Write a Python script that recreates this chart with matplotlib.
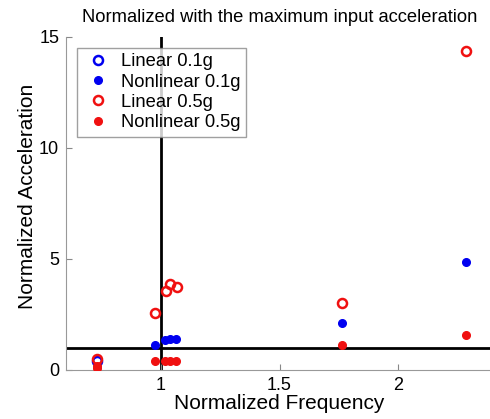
import numpy as np
import matplotlib.pyplot as plt

plt.rcParams['font.family'] = ['Liberation Sans', 'DejaVu Sans']

# normalized frequency / acceleration
lin01_x = [0.73]
lin01_y = [0.42]
nonlin01_x = [0.976, 1.017, 1.040, 1.063, 1.762, 2.287]
nonlin01_y = [1.12, 1.35, 1.38, 1.38, 2.10, 4.85]
lin05_x = [0.73, 0.976, 1.020, 1.040, 1.066, 1.762, 2.287]
lin05_y = [0.50, 2.55, 3.55, 3.85, 3.75, 3.03, 14.38]
nonlin05_x = [0.73, 0.73, 0.976, 1.017, 1.040, 1.063, 1.762, 2.287]
nonlin05_y = [0.20, 0.08, 0.40, 0.40, 0.40, 0.40, 1.13, 1.58]

xticks = [1, 1.5, 2]
yticks = [0, 5, 10, 15]

fig = plt.figure(figsize=(4.9, 4.19), dpi=100)
ax = fig.add_axes([0.135, 0.117, 0.871, 0.795])

ax.axvline(1, color='black', lw=2, zorder=1)
ax.axhline(1, color='black', lw=2, zorder=1)

ax.plot(lin01_x, lin01_y, 'o', mfc='none', mec='#0000f0', mew=1.8, ms=6.5, label='Linear 0.1g', zorder=3)
ax.plot(nonlin01_x, nonlin01_y, 'o', color='#0000f0', ms=5.5, label='Nonlinear 0.1g', zorder=3)
ax.plot(lin05_x, lin05_y, 'o', mfc='none', mec='#f01010', mew=1.8, ms=6.5, label='Linear 0.5g', zorder=3)
ax.plot(nonlin05_x, nonlin05_y, 'o', color='#f01010', ms=5.5, label='Nonlinear 0.5g', zorder=3)

ax.set_xlim(0.6, 2.4)
ax.set_ylim(0, 15)
ax.set_xticks(xticks)
ax.set_xticklabels(['1', '1.5', '2'])
ax.set_yticks(yticks)
ax.tick_params(direction='in', labelsize=13, color='#888888', length=4, pad=5)

for s in ['top', 'right']:
    ax.spines[s].set_visible(False)
for s in ['left', 'bottom']:
    ax.spines[s].set_color('#999999')

ax.set_xlabel('Normalized Frequency', fontsize=15, labelpad=0)
ax.set_ylabel('Normalized Acceleration', fontsize=15)
ax.yaxis.set_label_coords(-0.068, 0.52)
ax.set_title('Normalized with the maximum input acceleration', fontsize=13.2, pad=11)

leg = ax.legend(loc='upper left', bbox_to_anchor=(0.005, 0.995), fontsize=13.2,
                frameon=True, fancybox=False, edgecolor='#888888',
                handletextpad=0.5, borderpad=0.3, labelspacing=0.18, handlelength=1.6)
leg.get_frame().set_linewidth(1)

fig.savefig('out.png', dpi=100)
